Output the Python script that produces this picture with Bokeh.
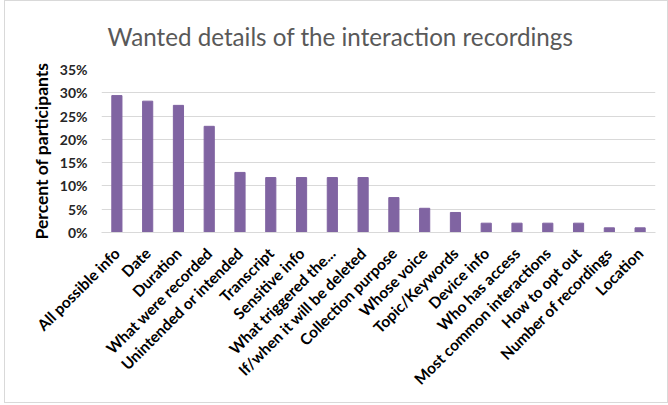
import math
from bokeh.plotting import figure
from bokeh.models import NumeralTickFormatter, FixedTicker, Range1d
from bokeh.embed import file_html
from bokeh.resources import INLINE

categories = ["All possible info", "Date", "Duration", "What were recorded",
              "Unintended or intended", "Transcript", "Sensitive info",
              "What triggered the...", "If/when it will be deleted",
              "Collection purpose", "Whose voice", "Topic/Keywords",
              "Device info", "Who has access", "Most common interactions",
              "How to opt out", "Number of recordings", "Location"]
values = [0.294, 0.282, 0.273, 0.228, 0.129, 0.118, 0.118, 0.118, 0.118,
          0.075, 0.052, 0.043, 0.020, 0.020, 0.020, 0.020, 0.010, 0.010]
y_ticks = [0, 0.05, 0.10, 0.15, 0.20, 0.25, 0.30, 0.35]

FONT = "Lato"

p = figure(x_range=categories, width=664, height=403,
           output_backend="svg", toolbar_location=None,
           title="Wanted details of the interaction recordings",
           min_border_left=96, min_border_right=14, min_border_top=68,
           min_border_bottom=172)
p.y_range = Range1d(0, 0.35)
p.x_range.range_padding = 0

p.vbar(x=categories, top=values, width=0.33, color="#8064A2")

p.title.align = "left"
p.title.offset = 6
p.title.text_font = FONT
p.title.text_font_size = "24.2px"
p.title.text_font_style = "normal"
p.title.text_color = "#595959"
p.title.standoff = 37

p.outline_line_color = None
p.xgrid.grid_line_color = None
p.ygrid.grid_line_color = "#d9d9d9"
p.ygrid.grid_line_width = 1

p.yaxis.ticker = FixedTicker(ticks=y_ticks)
p.yaxis.formatter = NumeralTickFormatter(format="0%")
p.yaxis.axis_line_color = None
p.yaxis.major_tick_line_color = None
p.yaxis.minor_tick_line_color = None
p.yaxis.major_label_text_font = FONT
p.yaxis.major_label_text_font_style = "bold"
p.yaxis.major_label_text_font_size = "14px"
p.yaxis.major_label_text_color = "#262626"
p.yaxis.major_label_standoff = 8
p.yaxis.axis_label = "Percent of participants"
p.yaxis.axis_label_text_font = FONT
p.yaxis.axis_label_text_font_style = "bold"
p.yaxis.axis_label_text_font_size = "17.5px"
p.yaxis.axis_label_text_color = "#000000"
p.yaxis.axis_label_standoff = 5

p.xaxis.axis_line_color = "#d9d9d9"
p.xaxis.major_tick_line_color = None
p.xaxis.minor_tick_line_color = None
p.xaxis.major_label_orientation = math.pi / 4
p.xaxis.major_label_text_font = FONT
p.xaxis.major_label_text_font_style = "bold"
p.xaxis.major_label_text_font_size = "15.5px"
p.xaxis.major_label_text_color = "#000000"
p.xaxis.major_label_standoff = 12

p.styles = {"border": "1px solid #d9d9d9", "margin-left": "4px"}

open("out.html", "w").write(file_html(p, INLINE))
